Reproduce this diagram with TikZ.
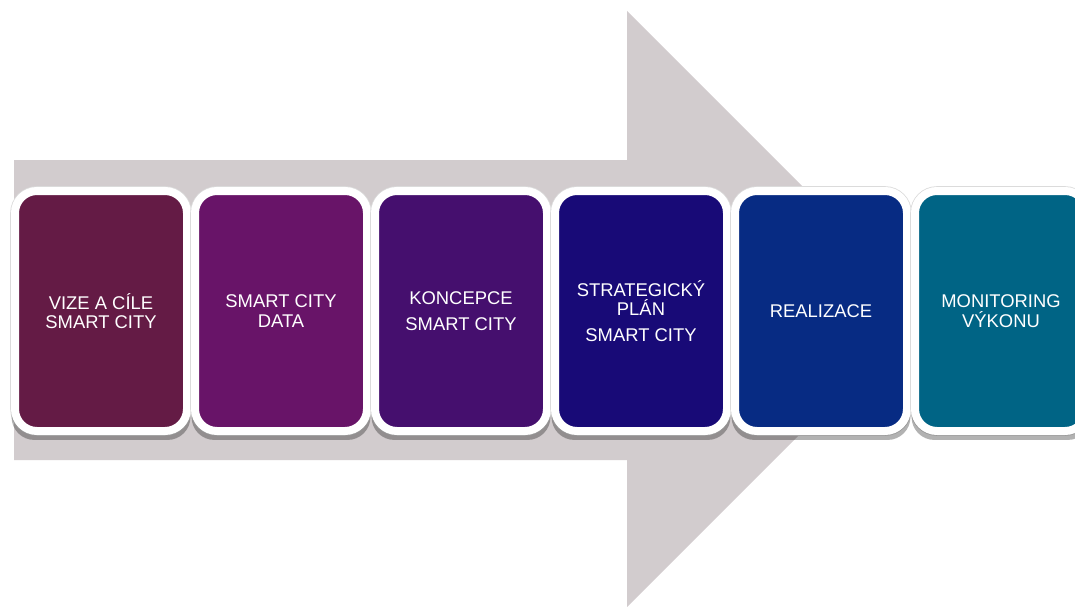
\documentclass[tikz,border=0pt]{standalone}
\usepackage{fontspec}
\setmainfont{Liberation Sans}
\usetikzlibrary{shadows}
\definecolor{arrowgray}{HTML}{D2CCCE}
\definecolor{cA}{HTML}{641B45}
\definecolor{cB}{HTML}{681468}
\definecolor{cC}{HTML}{450F6E}
\definecolor{cD}{HTML}{180A77}
\definecolor{cE}{HTML}{072B83}
\definecolor{cF}{HTML}{006485}
\tikzset{
  stagebox/.style={rectangle, draw=white, line width=8pt, rounded corners=22pt,
    minimum width=172pt, minimum height=240pt, inner sep=0pt,
    text=white, align=center, font=\fontsize{18.4}{19.5}\selectfont,
    preaction={draw=black!14, line width=9.6pt},
    drop shadow={shadow xshift=0pt, shadow yshift=-4pt, shadow scale=1.04, fill=black, opacity=0.3}},
  bigarrow/.style={fill=arrowgray, draw=none}
}
\begin{document}
\begin{tikzpicture}[x=1pt, y=-1pt]
\useasboundingbox (0,0) rectangle (1075,607);
\clip (0,0) rectangle (1075,607);
\fill[white] (0,0) rectangle (1075,607);
\path[bigarrow] (14,160) -- (627,160) -- (627,11) -- (925,309) -- (627,607) -- (627,460) -- (14,460) -- cycle;
\node[stagebox, fill=cA] (b1) at (101,311) {VIZE A CÍLE\\SMART CITY};
\node[stagebox, fill=cB] (b2) at (281,311) {SMART CITY\\DATA};
\node[stagebox, fill=cC] (b3) at (461,311) {KONCEPCE\\[6pt]SMART CITY};
\node[stagebox, fill=cD] (b4) at (641,311) {STRATEGICKÝ\\PLÁN\\[6pt]SMART CITY};
\node[stagebox, fill=cE] (b5) at (821,311) {REALIZACE};
\node[stagebox, fill=cF] (b6) at (1001,311) {MONITORING\\VÝKONU};
\end{tikzpicture}
\end{document}
